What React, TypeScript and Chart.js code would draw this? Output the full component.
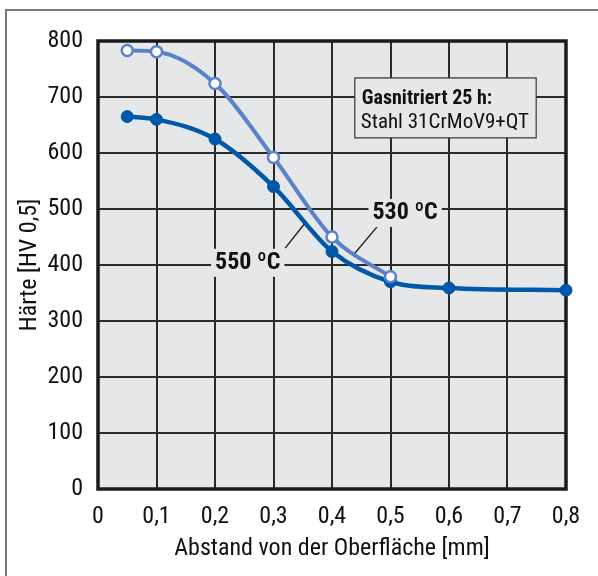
import React, { useEffect, useRef } from "react";
import { Chart, registerables } from "chart.js";

Chart.register(...registerables);

const xTicks = [0, 0.1, 0.2, 0.3, 0.4, 0.5, 0.6, 0.7, 0.8];
const yTicks = [0, 100, 200, 300, 400, 500, 600, 700, 800];
const x530 = [0.05, 0.1, 0.2, 0.3, 0.4, 0.5];
const y530 = [783, 781, 724, 592, 450, 379];
const x550 = [0.05, 0.1, 0.2, 0.3, 0.4, 0.5, 0.6, 0.8];
const y550 = [665, 660, 625, 540, 424, 370, 359, 355];
const label530 = "530 ºC";
const label550 = "550 ºC";
const boxLine1 = "Gasnitriert 25 h:";
const boxLine2 = "Stahl 31CrMoV9+QT";
const xTitle = "Abstand von der Oberfläche [mm]";
const yTitle = "Härte [HV 0,5]";

const FONT = "'Liberation Sans Narrow', 'Roboto Condensed', 'Liberation Sans', Arial, sans-serif";
const C530 = "#5b82c8";
const C550 = "#0058a9";
const BG = "#e6e7e9";
const INK = "#111";

export default function App() {
  const ref = useRef<HTMLCanvasElement>(null);
  useEffect(() => {
    document.body.style.margin = "0";
    const canvas = ref.current!;
    const decor = {
      id: "decor",
      beforeDraw(chart: any) {
        const { ctx, chartArea: a } = chart;
        ctx.save();
        ctx.fillStyle = "#fff";
        ctx.fillRect(0, 0, chart.width, chart.height);
        ctx.strokeStyle = "#7a7a7a";
        ctx.lineWidth = 2;
        ctx.beginPath();
        ctx.moveTo(6, chart.height);
        ctx.lineTo(6, 10);
        ctx.lineTo(chart.width, 10);
        ctx.stroke();
        ctx.fillStyle = BG;
        ctx.fillRect(a.left, a.top, a.right - a.left, a.bottom - a.top);
        ctx.restore();
      },
      beforeDatasetsDraw(chart: any) {
        const { ctx, chartArea: a, scales } = chart;
        const xs = scales.x, ys = scales.y;
        const px = (v: number) => xs.getPixelForValue(v);
        const py = (v: number) => ys.getPixelForValue(v);
        ctx.save();
        // frame
        ctx.strokeStyle = "#1a1a1a";
        ctx.lineWidth = 3.5;
        ctx.strokeRect(a.left, a.top, a.right - a.left, a.bottom - a.top);
        // info box
        const bx1 = px(0.439), bx2 = px(0.749), by1 = py(734), by2 = py(627);
        ctx.fillStyle = BG;
        ctx.fillRect(bx1, by1, bx2 - bx1, by2 - by1);
        ctx.strokeStyle = "#333";
        ctx.lineWidth = 1.2;
        ctx.strokeRect(bx1, by1, bx2 - bx1, by2 - by1);
        ctx.fillStyle = INK;
        ctx.textAlign = "left";
        ctx.textBaseline = "alphabetic";
        ctx.font = `bold 20px ${FONT}`;
        ctx.fillText(boxLine1, bx1 + 7, by1 + 26);
        ctx.font = `21px ${FONT}`;
        ctx.fillText(boxLine2, bx1 + 6, by1 + 50);
        // leader lines
        ctx.strokeStyle = "#1a1a1a";
        ctx.lineWidth = 1.3;
        ctx.beginPath();
        ctx.moveTo(px(0.477), py(468));
        ctx.lineTo(px(0.439), py(421));
        ctx.moveTo(px(0.320), py(430));
        ctx.lineTo(px(0.354), py(475));
        ctx.stroke();
        // curve labels
        ctx.font = `bold 24px ${FONT}`;
        ctx.textAlign = "center";
        ctx.textBaseline = "middle";
        const lab = (t: string, x: number, y: number) => {
          const w = ctx.measureText(t).width;
          ctx.fillStyle = BG;
          ctx.fillRect(x - w / 2 - 4, y - 14, w + 8, 28);
          ctx.fillStyle = INK;
          ctx.fillText(t, x, y);
        };
        lab(label530, px(0.525), py(493));
        lab(label550, px(0.256), py(404));
        ctx.restore();
      },
      afterDraw(chart: any) {
        const { ctx, chartArea: a } = chart;
        ctx.save();
        ctx.fillStyle = INK;
        ctx.font = `24px ${FONT}`;
        ctx.textAlign = "center";
        ctx.textBaseline = "middle";
        ctx.fillText(xTitle, 332, 549);
        ctx.translate(30, 265);
        ctx.rotate(-Math.PI / 2);
        ctx.fillText(yTitle, 0, 0);
        ctx.restore();
      },
    };
    const chart = new Chart(canvas, {
      type: "line",
      data: {
        datasets: [
          {
            label: label530,
            data: x530.map((x, i) => ({ x, y: y530[i] })),
            borderColor: C530,
            borderWidth: 4,
            backgroundColor: "#fff",
            pointBackgroundColor: "#fff",
            pointBorderColor: C530,
            pointBorderWidth: 2.5,
            pointRadius: 5.5,
            cubicInterpolationMode: "monotone",
            clip: false as any,
          },
          {
            label: label550,
            data: x550.map((x, i) => ({ x, y: y550[i] })),
            borderColor: C550,
            borderWidth: 4.5,
            backgroundColor: C550,
            pointBackgroundColor: C550,
            pointBorderColor: C550,
            pointBorderWidth: 1,
            pointRadius: 6,
            cubicInterpolationMode: "monotone",
            clip: false as any,
          },
        ],
      },
      options: {
        animation: false,
        responsive: false,
        layout: { padding: { top: 41, right: 32, left: 0, bottom: 0 } },
        plugins: { legend: { display: false }, tooltip: { enabled: false } },
        scales: {
          x: {
            type: "linear",
            min: 0,
            max: 0.8,
            afterBuildTicks: (s: any) => {
              s.ticks = xTicks.map((v) => ({ value: v }));
            },
            afterFit: (s: any) => {
              s.height = 87;
            },
            grid: { color: "#2a2a2a", lineWidth: 2, drawTicks: false },
            border: { display: false },
            ticks: {
              color: INK,
              font: { family: FONT, size: 24 },
              padding: 14,
              maxRotation: 0,
              autoSkip: false,
              callback: (v: any) => String(v).replace(".", ","),
            },
          },
          y: {
            type: "linear",
            min: 0,
            max: 800,
            afterBuildTicks: (s: any) => {
              s.ticks = yTicks.map((v) => ({ value: v }));
            },
            afterFit: (s: any) => {
              s.width = 98;
            },
            grid: { color: "#2a2a2a", lineWidth: 2, drawTicks: false },
            border: { display: false },
            ticks: {
              color: INK,
              font: { family: FONT, size: 24 },
              padding: 15,
              autoSkip: false,
            },
          },
        },
      },
      plugins: [decor],
    });
    return () => chart.destroy();
  }, []);
  return <canvas ref={ref} width={598} height={576} style={{ display: "block" }} />;
}
